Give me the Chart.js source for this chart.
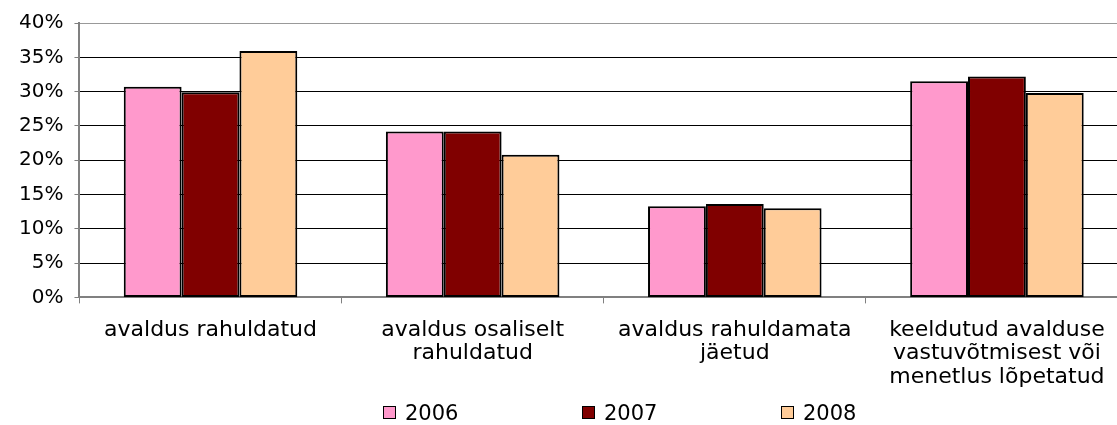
<!DOCTYPE html>
<html>
<head>
<meta charset="utf-8">
<script src="https://cdn.jsdelivr.net/npm/chart.js@4/dist/chart.umd.min.js"></script>
<style>
  html, body { margin: 0; padding: 0; background: #fff; overflow: hidden; }
  #wrap { position: relative; width: 1117px; height: 425px; overflow: hidden; }
  #chart { position: absolute; left: 0; top: 0; }
  #legend { position: absolute; top: 401px; left: 383px; font: 21px 'DejaVu Sans', Verdana, sans-serif; color: #000; white-space: nowrap; }
  #legend span.item { display: inline-block; width: 199px; }
  #legend i { display: inline-block; width: 11px; height: 11px; border: 1px solid #000; margin-right: 9px; vertical-align: 1px; }
</style>
</head>
<body>
<div id="wrap">
  <canvas id="chart" width="1132" height="425"></canvas>
  <div id="legend"></div>
</div>
<script>
// kategooriad ja aastate osakaalud (%)
const categories = [
  ['avaldus rahuldatud'],
  ['avaldus osaliselt', 'rahuldatud'],
  ['avaldus rahuldamata', 'jäetud'],
  ['keeldutud avalduse', 'vastuvõtmisest või', 'menetlus lõpetatud']
];
const years = ['2006', '2007', '2008'];
const values2006 = [30.7, 24.2, 13.3, 31.5];
const values2007 = [29.9, 24.2, 13.6, 32.2];
const values2008 = [35.9, 20.8, 13.0, 29.8];
const colors = ['#ff99cc', '#800000', '#ffcc99'];
const yTicks = { min: 0, max: 40, step: 5 };

const fontFamily = "'DejaVu Sans', Verdana, sans-serif";

const chart = new Chart(document.getElementById('chart'), {
  type: 'bar',
  data: {
    labels: categories,
    datasets: [values2006, values2007, values2008].map((vals, i) => ({
      label: years[i],
      data: vals,
      backgroundColor: colors[i],
      borderColor: '#000',
      borderWidth: 2,
      borderSkipped: false,
      barPercentage: 1,
      categoryPercentage: 0.662
    }))
  },
  options: {
    responsive: false,
    animation: false,
    layout: { padding: { left: 8, right: 4, top: 4.5, bottom: 21 } },
    plugins: {
      legend: { display: false },
      tooltip: { enabled: false }
    },
    scales: {
      x: {
        grid: {
          display: true,
          drawOnChartArea: false,
          drawTicks: true,
          tickLength: 6,
          tickColor: '#808080'
        },
        border: { color: '#808080', width: 2 },
        ticks: {
          color: '#000',
          padding: 15,
          maxRotation: 0,
          autoSkip: false,
          font: { family: fontFamily, size: 22, lineHeight: 1.07 }
        }
      },
      y: {
        min: yTicks.min,
        max: yTicks.max,
        grid: {
          color: (ctx) => ctx.tick && ctx.tick.value === yTicks.max ? '#999' : '#000',
          lineWidth: 1,
          tickLength: 5,
          tickColor: '#808080'
        },
        border: { color: '#808080', width: 2 },
        ticks: {
          stepSize: yTicks.step,
          color: '#000',
          padding: 11,
          font: { family: fontFamily, size: 20 },
          callback: (v) => v + '%'
        }
      }
    }
  }
});

// legend
const legendEl = document.getElementById('legend');
chart.data.datasets.forEach((ds) => {
  const item = document.createElement('span');
  item.className = 'item';
  const box = document.createElement('i');
  box.style.background = ds.backgroundColor;
  item.appendChild(box);
  item.appendChild(document.createTextNode(ds.label));
  legendEl.appendChild(item);
});
</script>
</body>
</html>
